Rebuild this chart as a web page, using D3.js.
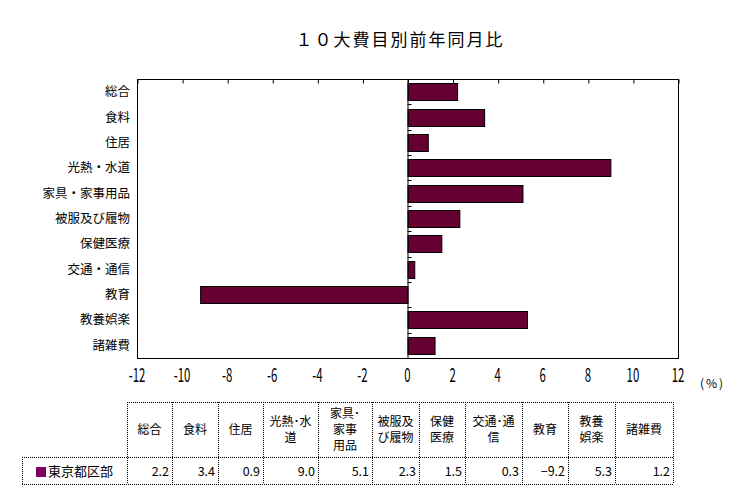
<!DOCTYPE html>
<html>
<head>
<meta charset="utf-8">
<script src="https://cdn.jsdelivr.net/npm/d3@7"></script>
<style>
  body { margin: 0; background: #fff; }
  text { font-family: "Noto Sans CJK JP", sans-serif; }
</style>
</head>
<body>
<div id="chart"></div>
<script>
const width = 748;
const height = 502;

// data
const categories = ['総合', '食料', '住居', '光熱・水道', '家具・家事用品', '被服及び履物',
  '保健医療', '交通・通信', '教育', '教養娯楽', '諸雑費'];
const headerLabels = [['総合'], ['食料'], ['住居'], ['光熱･水', '道'], ['家具･', '家事', '用品'],
  ['被服及', 'び履物'], ['保健', '医療'], ['交通･通', '信'], ['教育'], ['教養', '娯楽'], ['諸雑費']];
const values = [2.2, 3.4, 0.9, 9.0, 5.1, 2.3, 1.5, 0.3, -9.2, 5.3, 1.2];
const xTicks = [-12, -10, -8, -6, -4, -2, 0, 2, 4, 6, 8, 10, 12];
const seriesName = '東京都区部';

const barColor = '#660033';

const svg = d3.select('#chart')
  .append('svg')
  .attr('width', width)
  .attr('height', height);

const plot = { left: 137, right: 678, top: 79, bottom: 358 };

const x = d3.scaleLinear()
  .domain([-12, 12])
  .range([plot.left, plot.right]);

const y = d3.scaleBand()
  .domain(categories)
  .range([plot.top, plot.bottom])
  .paddingInner(0.33)
  .paddingOuter(0.165);

// title
svg.append('text')
  .attr('x', 400)
  .attr('y', 46)
  .attr('text-anchor', 'middle')
  .attr('font-size', 17)
  .attr('letter-spacing', 2)
  .text('１０大費目別前年同月比');

// plot frame
svg.append('rect')
  .attr('x', plot.left + 0.5)
  .attr('y', plot.top + 0.5)
  .attr('width', plot.right - plot.left)
  .attr('height', plot.bottom - plot.top)
  .attr('fill', 'none')
  .attr('stroke', '#000')
  .attr('stroke-width', 1);

// inward ticks on top edge
svg.append('g')
  .attr('transform', `translate(0.5,${plot.top + 0.5})`)
  .call(d3.axisBottom(x).tickValues(xTicks).tickSize(4).tickFormat(''))
  .call(g => g.select('.domain').remove());

// bottom tick labels (tall, narrow digits)
svg.append('g')
  .selectAll('text')
  .data(xTicks)
  .join('text')
  .attr('x', d => x(d))
  .attr('y', 382)
  .attr('text-anchor', 'middle')
  .attr('font-family', '"DejaVu Sans Condensed", sans-serif')
  .attr('font-size', 19)
  .attr('transform', d => `translate(${x(d)},0) scale(0.6,1) translate(${-x(d)},0)`)
  .text(d => d);

svg.append('text')
  .attr('x', 700)
  .attr('y', 388)
  .attr('font-size', 12)
  .attr('letter-spacing', 2)
  .text('(%)');

// bars
svg.append('g')
  .selectAll('rect')
  .data(values)
  .join('rect')
  .attr('x', d => x(Math.min(0, d)) + 0.5)
  .attr('y', (d, i) => Math.round(y(categories[i])) + 0.5)
  .attr('width', d => Math.abs(x(d) - x(0)))
  .attr('height', y.bandwidth())
  .attr('fill', barColor)
  .attr('stroke', '#000')
  .attr('stroke-width', 1);

// zero axis with ticks between categories
svg.append('line')
  .attr('x1', x(0) + 0.5)
  .attr('x2', x(0) + 0.5)
  .attr('y1', plot.top)
  .attr('y2', plot.bottom)
  .attr('stroke', '#000');

const step = y.step();
svg.append('g')
  .selectAll('line')
  .data(categories.slice(1))
  .join('line')
  .attr('x1', x(0))
  .attr('x2', x(0) + 4)
  .attr('y1', d => Math.round(y(d) - step * 0.165) + 0.5)
  .attr('y2', d => Math.round(y(d) - step * 0.165) + 0.5)
  .attr('stroke', '#000');

// category labels
svg.append('g')
  .selectAll('text')
  .data(categories)
  .join('text')
  .attr('x', 130)
  .attr('y', d => y(d) + y.bandwidth() / 2 + 4.5)
  .attr('text-anchor', 'end')
  .attr('font-size', 12.5)
  .text(d => d);

// data table
const colEdges = [127, 172, 218, 263, 318, 372, 419, 465, 522, 568, 615, 673];
const tTop = 402, tMid = 457, tBottom = 484, tLeft = 22;
const table = svg.append('g');
const dotted = sel => sel.attr('stroke', '#000').attr('stroke-width', 1)
  .attr('stroke-dasharray', '1,1').attr('fill', 'none');

table.append('line').attr('x1', colEdges[0]).attr('x2', colEdges[11])
  .attr('y1', tTop + 0.5).attr('y2', tTop + 0.5).call(dotted);
table.append('line').attr('x1', tLeft).attr('x2', colEdges[11])
  .attr('y1', tMid + 0.5).attr('y2', tMid + 0.5).call(dotted);
table.append('line').attr('x1', tLeft).attr('x2', colEdges[11])
  .attr('y1', tBottom + 0.5).attr('y2', tBottom + 0.5).call(dotted);
table.append('line').attr('x1', tLeft + 0.5).attr('x2', tLeft + 0.5)
  .attr('y1', tMid).attr('y2', tBottom).call(dotted);
table.selectAll('line.col')
  .data(colEdges)
  .join('line')
  .attr('class', 'col')
  .attr('x1', d => d + 0.5).attr('x2', d => d + 0.5)
  .attr('y1', tTop).attr('y2', tBottom)
  .call(dotted);

// header cells
const lineH = 16;
headerLabels.forEach((lines, i) => {
  const cx = (colEdges[i] + colEdges[i + 1]) / 2;
  const cy = (tTop + tMid) / 2;
  const y0 = cy - (lines.length - 1) * lineH / 2 + 4;
  table.append('text')
    .attr('text-anchor', 'middle')
    .attr('font-size', 12)
    .selectAll('tspan')
    .data(lines)
    .join('tspan')
    .attr('x', cx)
    .attr('y', (d, j) => y0 + j * lineH)
    .text(d => d);
});

// value cells
table.selectAll('text.val')
  .data(values)
  .join('text')
  .attr('class', 'val')
  .attr('x', (d, i) => colEdges[i + 1] - 3)
  .attr('y', (tMid + tBottom) / 2 + 5)
  .attr('text-anchor', 'end')
  .attr('font-size', 12.5)
  .text(d => d < 0 ? '−' + Math.abs(d).toFixed(1) : d.toFixed(1));

// legend key
table.append('rect')
  .attr('x', 36).attr('y', 467)
  .attr('width', 10).attr('height', 10)
  .attr('fill', '#800060');
table.append('text')
  .attr('x', 48)
  .attr('y', (tMid + tBottom) / 2 + 5)
  .attr('font-size', 13)
  .text(seriesName);
</script>
</body>
</html>
